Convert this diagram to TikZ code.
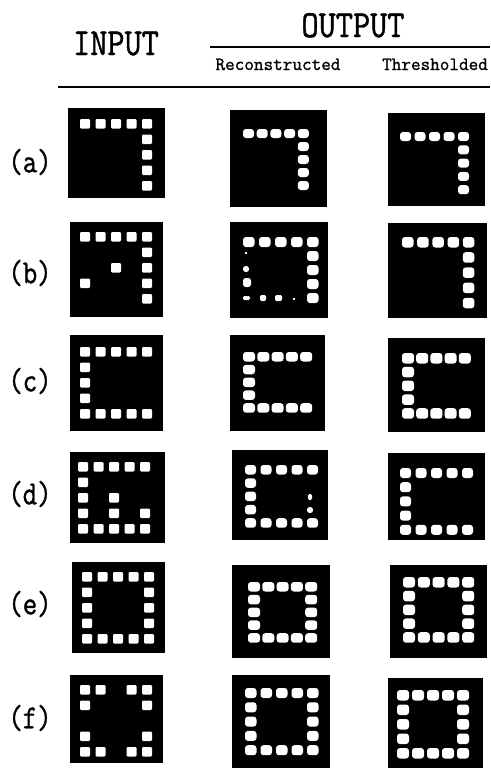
\documentclass[tikz,border=0pt]{standalone}
\usepackage{fontspec}
\newfontfamily\labelfont{Latin Modern Mono}[FakeBold=1.2]

\tikzset{
  panel/.style={fill=black},
  indot/.style={fill=white, rounded corners=0.8},
  outdot/.style={fill=white, rounded corners=2.2},
  head/.style={font=\labelfont\fontsize{25}{25}\selectfont, yscale=1.15},
  subhead/.style={font=\labelfont\fontsize{14}{14}\selectfont},
  rowlabel/.style={font=\labelfont\fontsize{21}{21}\selectfont, yscale=1.2}
}

% cells as column/row
\def\cellsbend{0/0,1/0,2/0,3/0,4/0,4/1,4/2,4/3,4/4}
\def\cellscee{0/0,1/0,2/0,3/0,4/0,0/1,0/2,0/3,0/4,1/4,2/4,3/4,4/4}
\def\cellsring{0/0,1/0,2/0,3/0,4/0,0/1,4/1,0/2,4/2,0/3,4/3,0/4,1/4,2/4,3/4,4/4}
\def\cellsinb{0/0,1/0,2/0,3/0,4/0,4/1,4/2,4/3,4/4,2/2,0/3}
\def\cellsind{0/0,1/0,2/0,3/0,4/0,0/1,0/2,2/2,0/3,2/3,4/3,0/4,1/4,2/4,3/4,4/4}
\def\cellsinf{0/0,1/0,3/0,4/0,0/1,4/1,0/3,4/3,0/4,1/4,3/4,4/4}

% origin x, origin y, pitch x, pitch y, dot w, dot h, style, cells
\newcommand{\pixgrid}[8]{%
  \foreach \cx/\cy in #8 {\fill[#7] ({#1+\cx*#3},{#2+\cy*#4}) rectangle ++(#5,#6);}}

\begin{document}
\begin{tikzpicture}[x=0.75pt,y=-0.75pt]
\useasboundingbox (0,0) rectangle (490,771);

% headings
\node[head, anchor=base] (output) at (353,37) {OUTPUT};
\node[head, anchor=base] (input) at (116,55) {INPUT};
\node[subhead, anchor=base] (recon) at (278,70) {Reconstructed};
\node[subhead, anchor=base] (thresh) at (435,70) {Thresholded};
\draw[line width=1.1pt] (210,47) -- (490,47);
\draw[line width=1.1pt] (58,87) -- (490,87);

\foreach \lab/\yy in {a/162,b/273,c/381,d/494,e/604,f/718}
  {\node[rowlabel] (lab-\lab) at (30,\yy) {(\lab)};}

% input column
\fill[panel] (68,108) rectangle (165,198);
\pixgrid{80}{119}{15.5}{15.5}{10}{9.5}{indot}{\cellsbend}
\fill[panel] (70,222) rectangle (163,317);
\pixgrid{80}{232}{15.5}{15.5}{10}{9.5}{indot}{\cellsinb}
\fill[panel] (70,335) rectangle (163,431);
\pixgrid{80}{347}{15.5}{15.5}{10}{9.5}{indot}{\cellscee}
\fill[panel] (70,452) rectangle (165,543);
\pixgrid{78}{462}{15.5}{15.5}{10}{9.5}{indot}{\cellsind}
\fill[panel] (72,562) rectangle (165,653);
\pixgrid{82}{572}{15.5}{15.5}{10}{9.5}{indot}{\cellsring}
\fill[panel] (70,675) rectangle (163,763);
\pixgrid{80}{685}{15.5}{15.5}{10}{9.5}{indot}{\cellsinf}

% reconstructed column
\fill[panel] (230,110) rectangle (327,207);
\pixgrid{243}{129}{13.7}{13}{11}{9}{outdot}{\cellsbend}
\fill[panel] (230,222) rectangle (328,318);
\pixgrid{243}{237}{16}{14}{11.5}{10}{outdot}{\cellsbend}
\fill[white] (245,252) rectangle ++(2,2);
\fill[white, rounded corners=2] (243,266) rectangle ++(6,6);
\fill[white, rounded corners=2] (243,278) rectangle ++(8,9);
\fill[white, rounded corners=1] (243,296) rectangle ++(7,4);
\fill[white, rounded corners=1] (260,295) rectangle ++(6,6);
\fill[white, rounded corners=1] (275,295) rectangle ++(7,6);
\fill[white] (293,298) rectangle ++(2,2);
\fill[panel] (230,335) rectangle (325,431);
\pixgrid{243}{352}{14.3}{12.8}{12}{9.5}{outdot}{\cellscee}
\fill[panel] (232,450) rectangle (328,540);
\pixgrid{245}{465}{15.5}{13.3}{11}{9.5}{outdot}{\cellscee}
\fill[white, rounded corners=1] (308,494) rectangle ++(4,6);
\fill[white, rounded corners=2] (307,507) rectangle ++(6,6);
\fill[panel] (232,565) rectangle (330,658);
\pixgrid{248}{582}{14.3}{12.8}{12}{9.5}{outdot}{\cellsring}
\fill[panel] (232,675) rectangle (330,768);
\pixgrid{245}{688}{15.5}{14.3}{11.5}{10}{outdot}{\cellsring}

% thresholded column
\fill[panel] (388,113) rectangle (485,206);
\pixgrid{400}{132}{14.5}{13.3}{11}{9}{outdot}{\cellsbend}
\fill[panel] (388,223) rectangle (487,318);
\pixgrid{402}{237}{15.2}{15.2}{11.5}{10.5}{outdot}{\cellsbend}
\fill[panel] (388,338) rectangle (485,432);
\pixgrid{402}{353}{14.2}{13.8}{12}{10.5}{outdot}{\cellscee}
\fill[panel] (388,453) rectangle (485,540);
\pixgrid{400}{468}{15.5}{14.2}{11}{10}{outdot}{\cellscee}
\fill[panel] (390,565) rectangle (487,658);
\pixgrid{403}{577}{14.8}{13.8}{12}{10.5}{outdot}{\cellsring}
\fill[panel] (388,678) rectangle (483,768);
\pixgrid{397}{690}{15}{14.5}{12}{10.5}{outdot}{\cellsring}
\end{tikzpicture}
\end{document}
